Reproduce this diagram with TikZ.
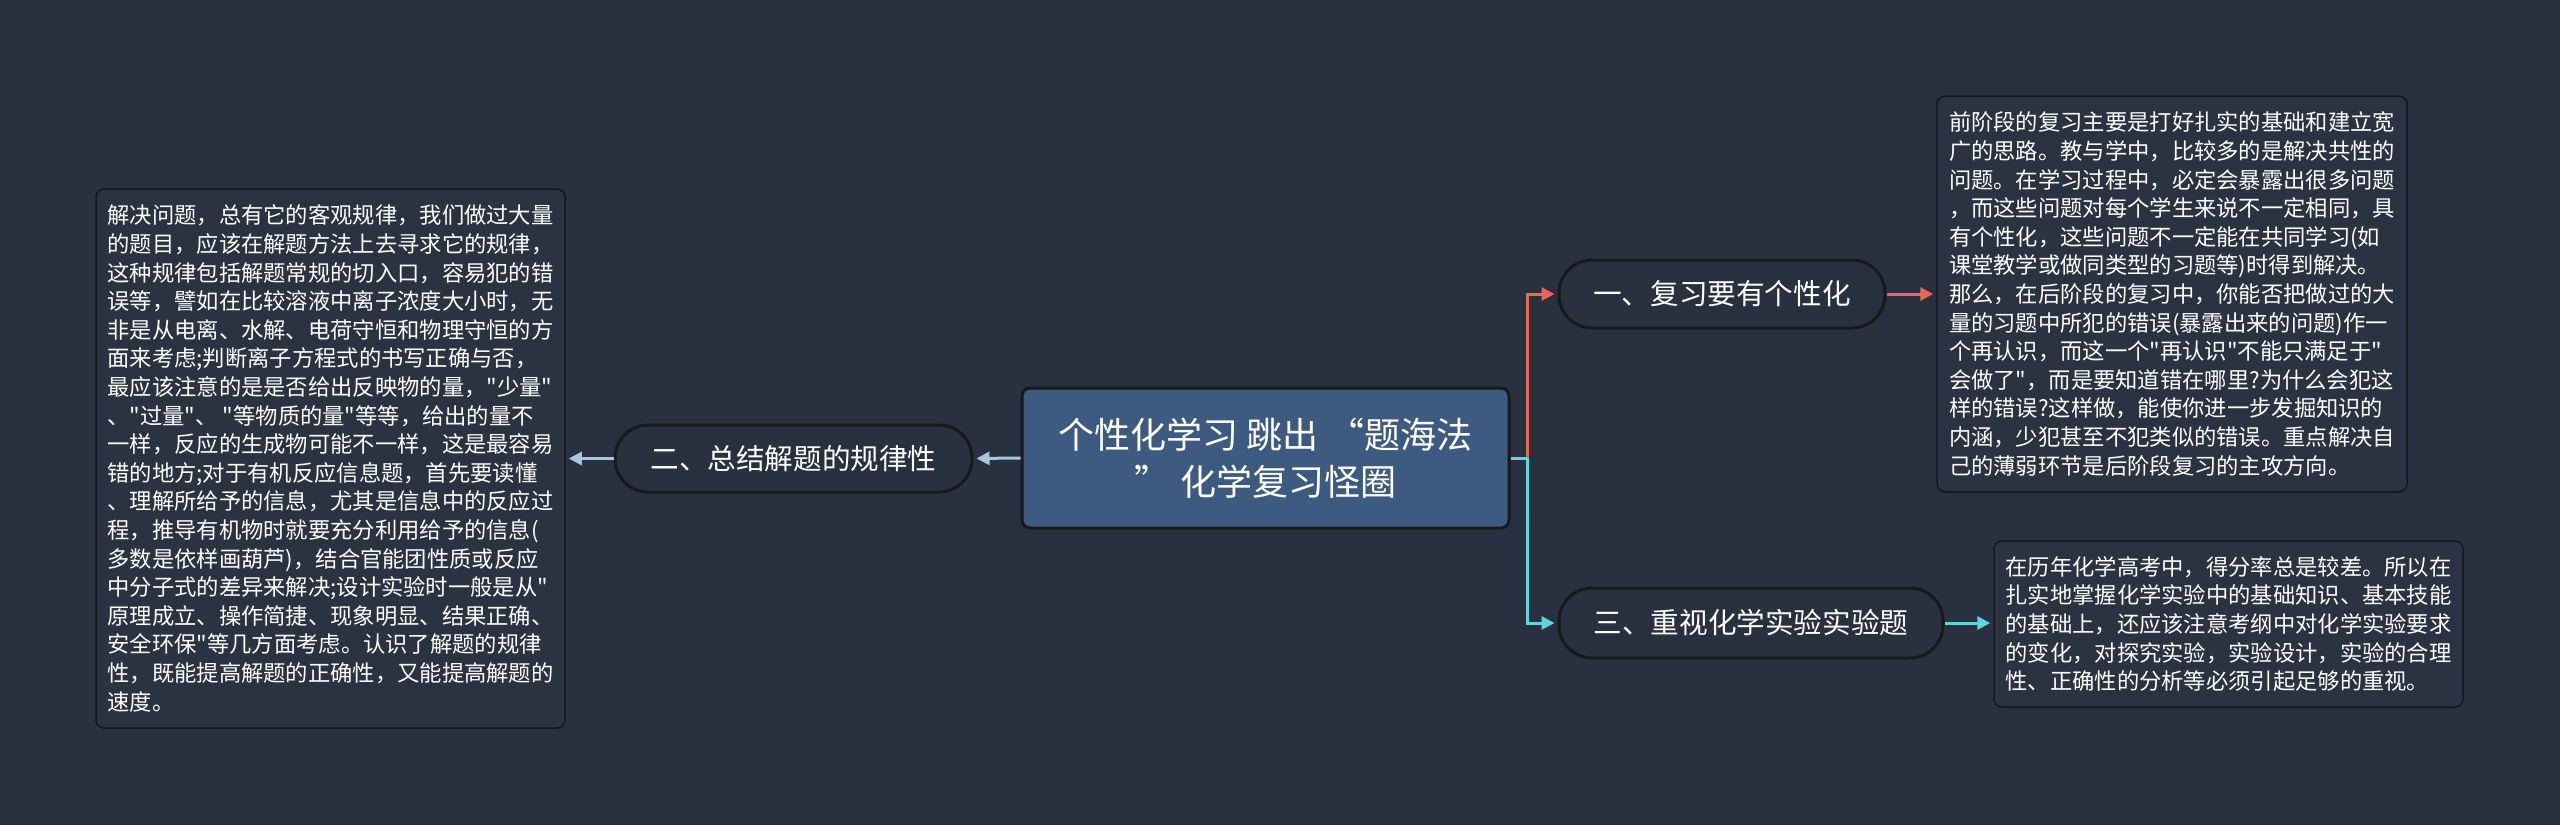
\documentclass[tikz,border=0pt]{standalone}
\usepackage{fontspec}
\setmainfont{Noto Sans CJK SC}[Ligatures=TeXOff]
\usetikzlibrary{arrows.meta}
\definecolor{bgc}{HTML}{293140}
\definecolor{boxfill}{HTML}{2B3342}
\definecolor{boxline}{HTML}{14171D}
\definecolor{centerfill}{HTML}{3D5A80}
\definecolor{orangec}{HTML}{E8694F}
\definecolor{cyanc}{HTML}{5ED6E0}
\definecolor{lightb}{HTML}{A3C8E0}
\tikzset{
  textbox/.style={draw=boxline, line width=1.5pt, fill=boxfill, rounded corners=8pt,
    text=white, align=left, inner sep=0pt, font=\fontsize{22.3}{28.6}\selectfont},
  pill/.style={draw=black!90, line width=3pt, fill=bgc, rounded corners=33pt,
    text=white, inner sep=0pt, font=\fontsize{28.6}{34}\selectfont},
  centerbox/.style={draw=black!90, line width=3pt, fill=centerfill, rounded corners=8pt,
    text=white, align=center, inner sep=0pt, font=\fontsize{36}{47}\selectfont},
  conn/.style={line width=3pt},
  tip/.style={-{Triangle[length=13pt,width=13pt]}, shorten >=3pt}
}
\begin{document}
\begin{tikzpicture}[x=1pt,y=-1pt]
\useasboundingbox[fill=bgc] (0,0) rectangle (2560,825);

\node[centerbox, minimum width=487pt, minimum height=140pt] (center) at (1265.5,458)
  {个性化学习 跳出\hspace{10pt}“题海法\\”\hspace{10pt}化学复习怪圈};

\node[pill, minimum width=357pt, minimum height=67pt] (n2) at (793.5,458.5) {二、总结解题的规律性};
\node[pill, minimum width=326pt, minimum height=68pt] (n1) at (1722,294) {一、复习要有个性化};
\node[pill, minimum width=384pt, minimum height=70pt] (n3) at (1751,623) {三、重视化学实验实验题};

\node[textbox, minimum width=469pt, minimum height=539pt] (lbox) at (330.5,458.5) {%
解决问题，总有它的客观规律，我们做过大量\\%
的题目，应该在解题方法上去寻求它的规律，\\%
这种规律包括解题常规的切入口，容易犯的错\\%
误等，譬如在比较溶液中离子浓度大小时，无\\%
非是从电离、水解、电荷守恒和物理守恒的方\\%
面来考虑;判断离子方程式的书写正确与否，\\%
最应该注意的是是否给出反映物的量，"少量"\\%
、"过量"、 "等物质的量"等等，给出的量不\\%
一样，反应的生成物可能不一样，这是最容易\\%
错的地方;对于有机反应信息题，首先要读懂\\%
、理解所给予的信息，尤其是信息中的反应过\\%
程，推导有机物时就要充分利用给予的信息(\\%
多数是依样画葫芦)，结合官能团性质或反应\\%
中分子式的差异来解决;设计实验时一般是从"\\%
原理成立、操作简捷、现象明显、结果正确、\\%
安全环保"等几方面考虑。认识了解题的规律\\%
性，既能提高解题的正确性，又能提高解题的\\%
速度。};

\node[textbox, minimum width=470pt, minimum height=396pt] (rtbox) at (2172,294) {%
前阶段的复习主要是打好扎实的基础和建立宽\\%
广的思路。教与学中，比较多的是解决共性的\\%
问题。在学习过程中，必定会暴露出很多问题\\%
，而这些问题对每个学生来说不一定相同，具\\%
有个性化，这些问题不一定能在共同学习(如\\%
课堂教学或做同类型的习题等)时得到解决。\\%
那么，在后阶段的复习中，你能否把做过的大\\%
量的习题中所犯的错误(暴露出来的问题)作一\\%
个再认识，而这一个"再认识"不能只满足于"\\%
会做了"，而是要知道错在哪里?为什么会犯这\\%
样的错误?这样做，能使你进一步发掘知识的\\%
内涵，少犯甚至不犯类似的错误。重点解决自\\%
己的薄弱环节是后阶段复习的主攻方向。};

\node[textbox, minimum width=469pt, minimum height=166pt] (rbbox) at (2228.5,624) {%
在历年化学高考中，得分率总是较差。所以在\\%
扎实地掌握化学实验中的基础知识、基本技能\\%
的基础上，还应该注意考纲中对化学实验要求\\%
的变化，对探究实验，实验设计，实验的合理\\%
性、正确性的分析等必须引起足够的重视。};

\coordinate (elbow) at (1527,458);

\draw[conn, lightb, tip] (center.west) -- (n2.east);
\draw[conn, lightb, tip] (n2.west) -- (lbox.east);
\draw[conn, orangec, tip] (elbow) |- (n1.west);
\draw[conn, cyanc, tip] (elbow) |- (n3.west);
\draw[conn, cyanc] (center.east) -- (elbow);
\draw[conn, orangec, tip] (n1.east) -- (rtbox.west);
\draw[conn, cyanc, tip] (n3.east) -- (n3.east -| rbbox.west);
\end{tikzpicture}
\end{document}
